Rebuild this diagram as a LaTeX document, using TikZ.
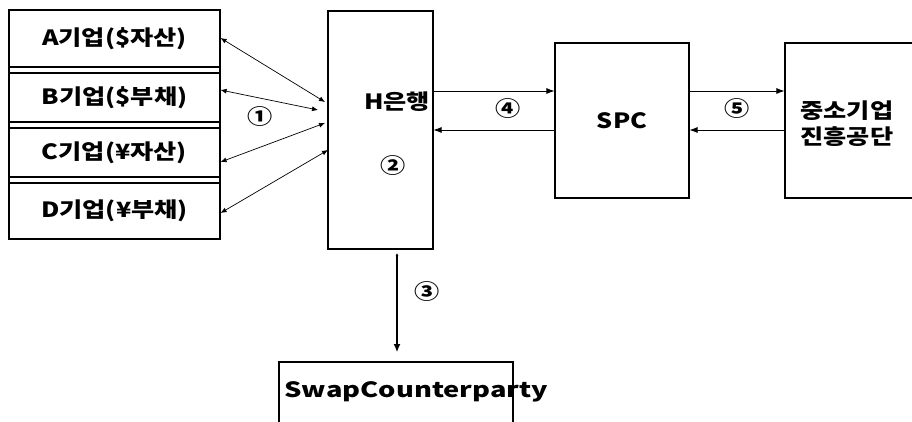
\documentclass[tikz,border=0pt]{standalone}
\usepackage{fontspec}
\setmainfont{Noto Sans CJK KR}[FakeStretch=1.2]
\newfontfamily\widefont{Noto Sans CJK KR}[FakeStretch=1.3]
\usepackage{tikz}
\usetikzlibrary{arrows.meta,calc}

\begin{document}
\begin{tikzpicture}[x=1pt,y=-1pt,
	box/.style={draw, line width=1.1pt, inner sep=0pt},
	link/.style={line width=0.8pt, -{Latex[length=8pt,width=6pt]}},
	both/.style={line width=0.7pt, {Latex[length=6pt,width=5pt]}-{Latex[length=6pt,width=5pt]}},
	font=\fontsize{21}{26}\selectfont\bfseries]

	\useasboundingbox (0,0) rectangle (912,421);

	% companies
	\draw[line width=1.1pt] (9,10) rectangle (220,239);
	\node[box, minimum width=211pt, minimum height=57pt] (A) at (114.5,38.5) {A기업(\$자산)};
	\node[box, minimum width=211pt, minimum height=49pt] (B) at (114.5,97.5) {B기업(\$부채)};
	\node[box, minimum width=211pt, minimum height=49pt] (C) at (114.5,152.5) {C기업(¥자산)};
	\node[box, minimum width=211pt, minimum height=56pt] (D) at (114.5,211) {D기업(¥부채)};

	% bank, SPC, KOSME, counterparty
	\node[box, minimum width=105pt, minimum height=238pt] (H) at (380.5,130) {};
	\node (Hname) at (397,102) {H은행};
	\node (n2) at (393,166) {②};
	\node[box, minimum width=134pt, minimum height=155pt] (SPC) at (622,120.5) {SPC};
	\node[box, minimum width=140pt, minimum height=155pt] (K) at (855,120.5) {};
	\node[anchor=west, align=left] (Kname) at (797,124) {중소기업\\진흥공단};
	\node[box, minimum width=234pt, minimum height=80pt] (S) at (396,402) {};
	\node[anchor=west, font=\fontsize{21}{26}\widefont\bfseries] (Sname) at (281,392) {SwapCounterparty};

	% points on the bank
	\coordinate (ha) at (325,102);
	\coordinate (hb) at (318,110);
	\coordinate (hc) at (325,123);
	\coordinate (hd) at (328,150);
	\coordinate (ht) at (397,253);
	\coordinate (sb) at (397,352);

	\draw[both] (A.east |- 0,38) -- (ha);
	\draw[both] (B.east |- 0,90) -- (hb);
	\draw[both] (C.east |- 0,162) -- (hc);
	\draw[both] (D.east |- 0,213) -- (hd);
	\node (n1) at (260,117) {①};

	\draw[link] (H.east |- 0,91) -- (SPC.west |- 0,91);
	\draw[link] (SPC.west |- 0,130) -- (H.east |- 0,130);
	\node (n4) at (508,109) {④};

	\draw[link] (SPC.east |- 0,91) -- (K.west |- 0,91);
	\draw[link] (K.west |- 0,130) -- (SPC.east |- 0,130);
	\node (n5) at (737,109) {⑤};

	\draw[line width=1.2pt, {Latex[length=3pt,width=3pt]}-{Latex[length=8pt,width=7pt]}] (ht) -- (sb);
	\node (n3) at (427,292) {③};

\end{tikzpicture}
\end{document}
